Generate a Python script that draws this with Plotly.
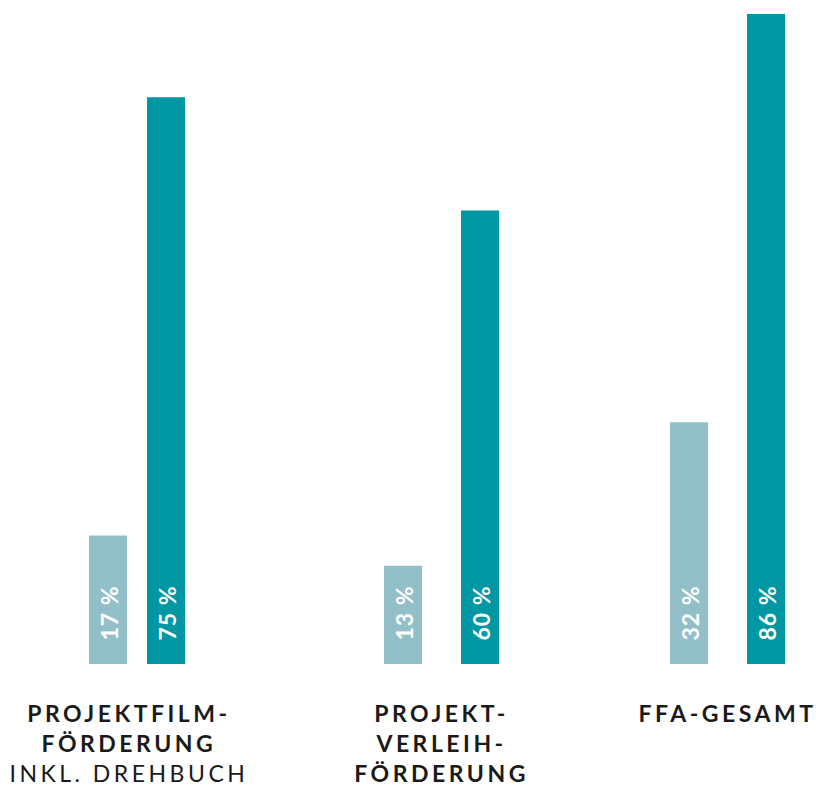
"""Grouped bar chart: FFA funding shares by programme (two series per group)."""

import plotly.graph_objects as go

# ── Data ──────────────────────────────────────────────────────────────────────
categories = [
    "<b>PROJEKTFILM-<br>FÖRDERUNG</b><br>INKL. DREHBUCH",
    "<b>PROJEKT-<br>VERLEIH-<br>FÖRDERUNG</b>",
    "<b>FFA-GESAMT</b>",
]
light_values = [17, 13, 32]
dark_values = [75, 60, 86]

# ── Layout positions (pixel-like x axis 0..818) ───────────────────────────────
light_x = [108, 403, 689]
dark_x = [166, 480, 766]
label_x = [129, 441, 727]

LIGHT = "#93c0c8"
DARK = "#0097a5"
FONT = "Lato, 'Open Sans', sans-serif"

fig = go.Figure()
fig.add_trace(go.Bar(x=light_x, y=light_values, width=38,
                     marker=dict(color=LIGHT, line=dict(width=0)),
                     hoverinfo="skip"))
fig.add_trace(go.Bar(x=dark_x, y=dark_values, width=38,
                     marker=dict(color=DARK, line=dict(width=0)),
                     hoverinfo="skip"))

annotations = []
# value labels, rotated, at the foot of each bar
for xs, vals in ((light_x, light_values), (dark_x, dark_values)):
    for x, v in zip(xs, vals):
        annotations.append(dict(
            x=x, y=0, xref="x", yref="y", text=f"<b>{v} %</b>",
            textangle=-90, showarrow=False, yanchor="bottom", xanchor="center",
            yshift=23, font=dict(family=FONT, size=23, color="white"),
        ))
# category labels under the groups
for x, label in zip(label_x, categories):
    annotations.append(dict(
        x=x, y=0, xref="x", yref="y", text=label, showarrow=False,
        yanchor="top", xanchor="center", yshift=-33, align="center",
        font=dict(family=FONT, size=23, color="#1a1a1a"),
    ))

fig.update_layout(
    width=818, height=787,
    margin=dict(l=0, r=0, t=0, b=0),
    paper_bgcolor="white", plot_bgcolor="white",
    showlegend=False, barmode="overlay",
    xaxis=dict(range=[0, 818], visible=False, fixedrange=True),
    yaxis=dict(range=[0, 86], domain=[123 / 787, 773 / 787],
               visible=False, fixedrange=True),
    annotations=annotations,
)

# page margin off + letter spacing (kept as a stylesheet so re-renders keep it)
css = (
    "body{margin:0;}"
    ".annotation-text{letter-spacing:3.5px;}"
    ".annotation-text[data-unformatted*=\\'%\\']{letter-spacing:1px;}"
)
post = (
    "var s=document.createElement('style');"
    f"s.textContent='{css}';"
    "document.head.appendChild(s);"
)
fig.write_html("out.html", post_script=post, config={"displayModeBar": False})
